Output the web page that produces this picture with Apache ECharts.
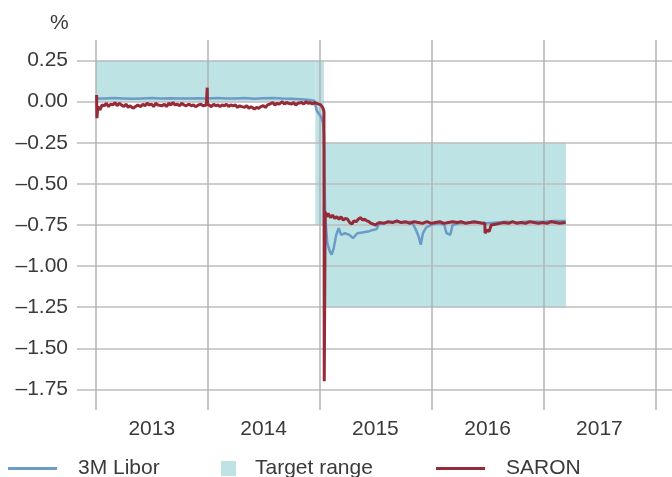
<!DOCTYPE html>
<html>
<head>
<meta charset="utf-8">
<script src="https://cdn.jsdelivr.net/npm/echarts@6/dist/echarts.min.js"></script>
<style>
  html, body { margin: 0; padding: 0; background: #fff; }
  #chart { width: 672px; height: 477px; }
</style>
</head>
<body>
<div id="chart"></div>
<script>
// tick labels
var yTicks = [0.25, 0, -0.25, -0.5, -0.75, -1, -1.25, -1.5, -1.75];
var yearStarts = ['2013-01-01', '2014-01-01', '2015-01-01', '2016-01-01', '2017-01-01', '2018-01-01'];
var yearLabels = ['2013', '2014', '2015', '2016', '2017'];

// SNB target range (start, end, low, high)
var rangeStart = ['2013-01-01', '2014-12-18', '2015-01-15'];
var rangeEnd   = ['2014-12-18', '2015-01-15', '2017-03-15'];
var rangeLow   = [0, -0.75, -1.25];
var rangeHigh  = [0.25, 0.25, -0.25];

// 3M Libor
var libor = [
  ['2013-01-03', 0.015], ['2013-01-10', 0.02], ['2013-02-01', 0.02], ['2013-03-01', 0.022],
  ['2013-04-01', 0.02], ['2013-05-01', 0.018], ['2013-06-01', 0.02], ['2013-07-01', 0.022],
  ['2013-08-01', 0.02], ['2013-09-01', 0.021], ['2013-10-01', 0.019], ['2013-11-01', 0.02],
  ['2013-12-01', 0.021], ['2014-01-01', 0.02], ['2014-02-01', 0.022], ['2014-03-01', 0.02],
  ['2014-04-01', 0.02], ['2014-05-01', 0.023], ['2014-06-01', 0.018], ['2014-07-01', 0.021],
  ['2014-08-01', 0.023], ['2014-09-01', 0.02], ['2014-10-01', 0.018], ['2014-11-01', 0.014],
  ['2014-12-01', 0.01], ['2014-12-15', 0.005], ['2014-12-19', -0.03], ['2014-12-24', -0.06],
  ['2015-01-05', -0.09], ['2015-01-12', -0.13], ['2015-01-15', -0.2], ['2015-01-19', -0.7],
  ['2015-01-26', -0.86], ['2015-02-03', -0.91], ['2015-02-09', -0.93], ['2015-02-16', -0.89],
  ['2015-02-24', -0.81], ['2015-03-04', -0.77], ['2015-03-12', -0.81], ['2015-03-25', -0.8],
  ['2015-04-08', -0.81], ['2015-04-20', -0.83], ['2015-05-04', -0.8], ['2015-05-20', -0.795],
  ['2015-06-08', -0.79], ['2015-06-24', -0.78], ['2015-07-06', -0.775], ['2015-07-13', -0.745],
  ['2015-08-03', -0.735], ['2015-09-01', -0.73], ['2015-10-01', -0.735], ['2015-10-28', -0.73],
  ['2015-11-09', -0.77], ['2015-11-20', -0.82], ['2015-11-27', -0.87], ['2015-12-04', -0.8],
  ['2015-12-15', -0.765], ['2016-01-05', -0.745], ['2016-01-28', -0.74], ['2016-02-12', -0.75],
  ['2016-02-19', -0.8], ['2016-03-02', -0.81], ['2016-03-10', -0.75], ['2016-04-01', -0.74],
  ['2016-05-02', -0.735], ['2016-06-01', -0.735], ['2016-07-01', -0.74], ['2016-08-01', -0.735],
  ['2016-09-01', -0.73], ['2016-10-03', -0.735], ['2016-11-01', -0.73], ['2016-12-01', -0.73],
  ['2017-01-03', -0.73], ['2017-02-01', -0.725], ['2017-03-14', -0.725]
];

// SARON
var saron = [
  ['2013-01-03', 0.04], ['2013-01-04', -0.1], ['2013-01-07', -0.03], ['2013-01-14', -0.05],
  ['2013-01-21', -0.02], ['2013-01-28', -0.025], ['2013-02-04', -0.01], ['2013-02-11', -0.03],
  ['2013-02-18', -0.015], ['2013-02-25', -0.02], ['2013-03-04', -0.005], ['2013-03-11', -0.025],
  ['2013-03-18', -0.01], ['2013-03-25', -0.02], ['2013-04-02', -0.03], ['2013-04-09', -0.015],
  ['2013-04-16', -0.035], ['2013-04-23', -0.025], ['2013-05-02', -0.04], ['2013-05-10', -0.03],
  ['2013-05-17', -0.02], ['2013-05-27', -0.03], ['2013-06-03', -0.015], ['2013-06-10', -0.025],
  ['2013-06-17', -0.01], ['2013-06-24', -0.02], ['2013-07-01', -0.015], ['2013-07-08', -0.03],
  ['2013-07-15', -0.01], ['2013-07-22', -0.02], ['2013-08-05', -0.025], ['2013-08-12', -0.015],
  ['2013-08-19', -0.03], ['2013-08-26', -0.01], ['2013-09-02', -0.02], ['2013-09-09', -0.005],
  ['2013-09-16', -0.02], ['2013-09-23', -0.015], ['2013-10-01', -0.025], ['2013-10-08', -0.01],
  ['2013-10-15', -0.02], ['2013-10-22', -0.025], ['2013-11-01', -0.015], ['2013-11-08', -0.025],
  ['2013-11-15', -0.02], ['2013-11-22', -0.03], ['2013-12-02', -0.02], ['2013-12-09', -0.015],
  ['2013-12-16', -0.025], ['2013-12-27', -0.02], ['2013-12-30', 0.085], ['2013-12-31', -0.015],
  ['2014-01-06', -0.02], ['2014-01-13', -0.03], ['2014-01-20', -0.015], ['2014-01-27', -0.025],
  ['2014-02-03', -0.02], ['2014-02-10', -0.03], ['2014-02-17', -0.02], ['2014-02-24', -0.025],
  ['2014-03-03', -0.015], ['2014-03-10', -0.03], ['2014-03-17', -0.02], ['2014-03-24', -0.025],
  ['2014-04-01', -0.02], ['2014-04-08', -0.035], ['2014-04-15', -0.025], ['2014-04-22', -0.03],
  ['2014-05-01', -0.035], ['2014-05-08', -0.025], ['2014-05-15', -0.04], ['2014-05-22', -0.03],
  ['2014-06-02', -0.045], ['2014-06-09', -0.035], ['2014-06-16', -0.04], ['2014-06-23', -0.03],
  ['2014-07-01', -0.025], ['2014-07-08', -0.035], ['2014-07-15', -0.02], ['2014-07-22', -0.015],
  ['2014-08-01', -0.005], ['2014-08-08', -0.02], ['2014-08-15', -0.01], ['2014-08-22', -0.015],
  ['2014-09-01', 0], ['2014-09-08', -0.015], ['2014-09-15', -0.005], ['2014-09-22', -0.01],
  ['2014-10-01', -0.015], ['2014-10-08', -0.005], ['2014-10-15', -0.02], ['2014-10-22', -0.01],
  ['2014-11-03', -0.005], ['2014-11-10', -0.015], ['2014-11-17', 0], ['2014-11-24', -0.01],
  ['2014-12-01', -0.005], ['2014-12-08', -0.015], ['2014-12-15', -0.005], ['2014-12-22', -0.01],
  ['2015-01-05', -0.02], ['2015-01-12', -0.04], ['2015-01-15', -0.06], ['2015-01-16', -1.7],
  ['2015-01-19', -0.67], ['2015-01-23', -0.7], ['2015-01-29', -0.68], ['2015-02-05', -0.705],
  ['2015-02-12', -0.69], ['2015-02-19', -0.71], ['2015-02-26', -0.7], ['2015-03-05', -0.715],
  ['2015-03-12', -0.7], ['2015-03-19', -0.72], ['2015-03-26', -0.71], ['2015-04-02', -0.715],
  ['2015-04-09', -0.735], ['2015-04-16', -0.745], ['2015-04-23', -0.725], ['2015-04-30', -0.73],
  ['2015-05-07', -0.715], ['2015-05-14', -0.705], ['2015-05-21', -0.72], ['2015-05-28', -0.715],
  ['2015-06-04', -0.725], ['2015-06-11', -0.73], ['2015-06-18', -0.74], ['2015-06-25', -0.745],
  ['2015-07-02', -0.75], ['2015-07-09', -0.74], ['2015-07-16', -0.735], ['2015-07-30', -0.74],
  ['2015-08-13', -0.73], ['2015-08-27', -0.735], ['2015-09-10', -0.725], ['2015-09-24', -0.735],
  ['2015-10-08', -0.73], ['2015-10-22', -0.74], ['2015-11-05', -0.73], ['2015-11-19', -0.735],
  ['2015-12-03', -0.74], ['2015-12-17', -0.73], ['2015-12-31', -0.74], ['2016-01-14', -0.735],
  ['2016-01-28', -0.73], ['2016-02-11', -0.74], ['2016-02-25', -0.735], ['2016-03-10', -0.73],
  ['2016-03-24', -0.735], ['2016-04-07', -0.73], ['2016-04-21', -0.74], ['2016-05-05', -0.735],
  ['2016-05-19', -0.73], ['2016-06-02', -0.735], ['2016-06-16', -0.74], ['2016-06-23', -0.74],
  ['2016-06-24', -0.8], ['2016-06-30', -0.78], ['2016-07-07', -0.79], ['2016-07-14', -0.75],
  ['2016-07-28', -0.745], ['2016-08-11', -0.74], ['2016-08-25', -0.735], ['2016-09-08', -0.74],
  ['2016-09-22', -0.73], ['2016-10-06', -0.74], ['2016-10-20', -0.735], ['2016-11-03', -0.74],
  ['2016-11-17', -0.73], ['2016-12-01', -0.735], ['2016-12-15', -0.74], ['2016-12-29', -0.735],
  ['2017-01-12', -0.74], ['2017-01-26', -0.73], ['2017-02-09', -0.735], ['2017-02-23', -0.74],
  ['2017-03-14', -0.735]
];

var tp = echarts.time.parse;
var FONT = 'Liberation Sans';
var TEXT = '#3a3a3a';
var BLUE = '#6b9bc7';
var RED = '#962a38';
var TEAL = '#bde3e5';

// the x axis is a plain value axis holding timestamps
function toTs(rows) {
  return rows.map(function (r) { return [+tp(r[0]), r[1]]; });
}
var rangeRows = [];
for (var i = 0; i < rangeStart.length; i++) {
  rangeRows.push([+tp(rangeStart[i]), +tp(rangeEnd[i]), rangeLow[i], rangeHigh[i]]);
}
var yearTicks = yearStarts.map(function (d) { return +tp(d); });
// labels sit in the middle of each year
var yearMids = yearLabels.map(function (y) { return +tp(y + '-07-02'); });

var legendText = { fontFamily: FONT, fontSize: 21, color: TEXT, padding: [0, 0, 0, 16] };

var chart = echarts.init(document.getElementById('chart'), null, { renderer: 'canvas' });

chart.setOption({
  animation: false,
  textStyle: { fontFamily: FONT },
  title: {
    text: '%', left: 50, top: 13, padding: 0,
    textStyle: { fontFamily: FONT, fontSize: 21, fontWeight: 'normal', color: TEXT }
  },
  grid: { left: 77, right: 0, top: 40, bottom: 67, containLabel: false },
  legend: [
    {
      left: 8, top: 458, padding: 0, itemWidth: 49, itemHeight: 3,
      data: [{ name: '3M Libor', icon: 'rect' }],
      textStyle: legendText
    },
    {
      left: 221, top: 458, padding: 0, itemWidth: 15, itemHeight: 15,
      data: [{ name: 'Target range', icon: 'rect' }],
      textStyle: { fontFamily: FONT, fontSize: 21, color: TEXT, padding: [0, 0, 0, 14] }
    },
    {
      left: 436, top: 458, padding: 0, itemWidth: 49, itemHeight: 3,
      data: [{ name: 'SARON', icon: 'rect' }],
      textStyle: legendText
    }
  ],
  xAxis: {
    type: 'value',
    z: 1,
    min: +tp('2012-10-31'),
    max: +tp('2018-02-24'),
    axisLine: { show: false },
    axisTick: { show: false, customValues: yearTicks },
    splitLine: { show: true, lineStyle: { color: '#b3b3b3', width: 1.5 } },
    axisLabel: {
      customValues: yearMids,
      margin: 9,
      fontFamily: FONT, fontSize: 21, color: TEXT,
      formatter: function (v) { return String(new Date(v).getFullYear()); }
    }
  },
  yAxis: {
    type: 'value',
    z: 1,
    min: -1.875,
    max: 0.375,
    axisLine: { show: false },
    axisTick: { show: false, customValues: yTicks },
    splitLine: { show: true, lineStyle: { color: '#bdbdbd', width: 1.5 } },
    axisLabel: {
      customValues: yTicks,
      margin: 9,
      fontFamily: FONT, fontSize: 21, color: TEXT,
      formatter: function (v) { return v.toFixed(2).replace('-', '\u2013'); }
    }
  },
  series: [
    {
      name: 'Target range',
      type: 'custom',
      z: 0,
      itemStyle: { color: TEAL },
      encode: { x: [0, 1], y: [2, 3] },
      data: rangeRows,
      renderItem: function (params, api) {
        var p1 = api.coord([api.value(0), api.value(3)]);
        var p2 = api.coord([api.value(1), api.value(2)]);
        return {
          type: 'rect',
          shape: { x: p1[0], y: p1[1], width: p2[0] - p1[0], height: p2[1] - p1[1] },
          style: { fill: TEAL }
        };
      }
    },
    {
      name: '3M Libor',
      type: 'line',
      z: 3,
      symbol: 'none',
      color: BLUE,
      lineStyle: { color: BLUE, width: 2.5 },
      data: toTs(libor)
    },
    {
      name: 'SARON',
      type: 'line',
      z: 4,
      symbol: 'none',
      color: RED,
      lineStyle: { color: RED, width: 3 },
      data: toTs(saron)
    }
  ]
});
</script>
</body>
</html>
